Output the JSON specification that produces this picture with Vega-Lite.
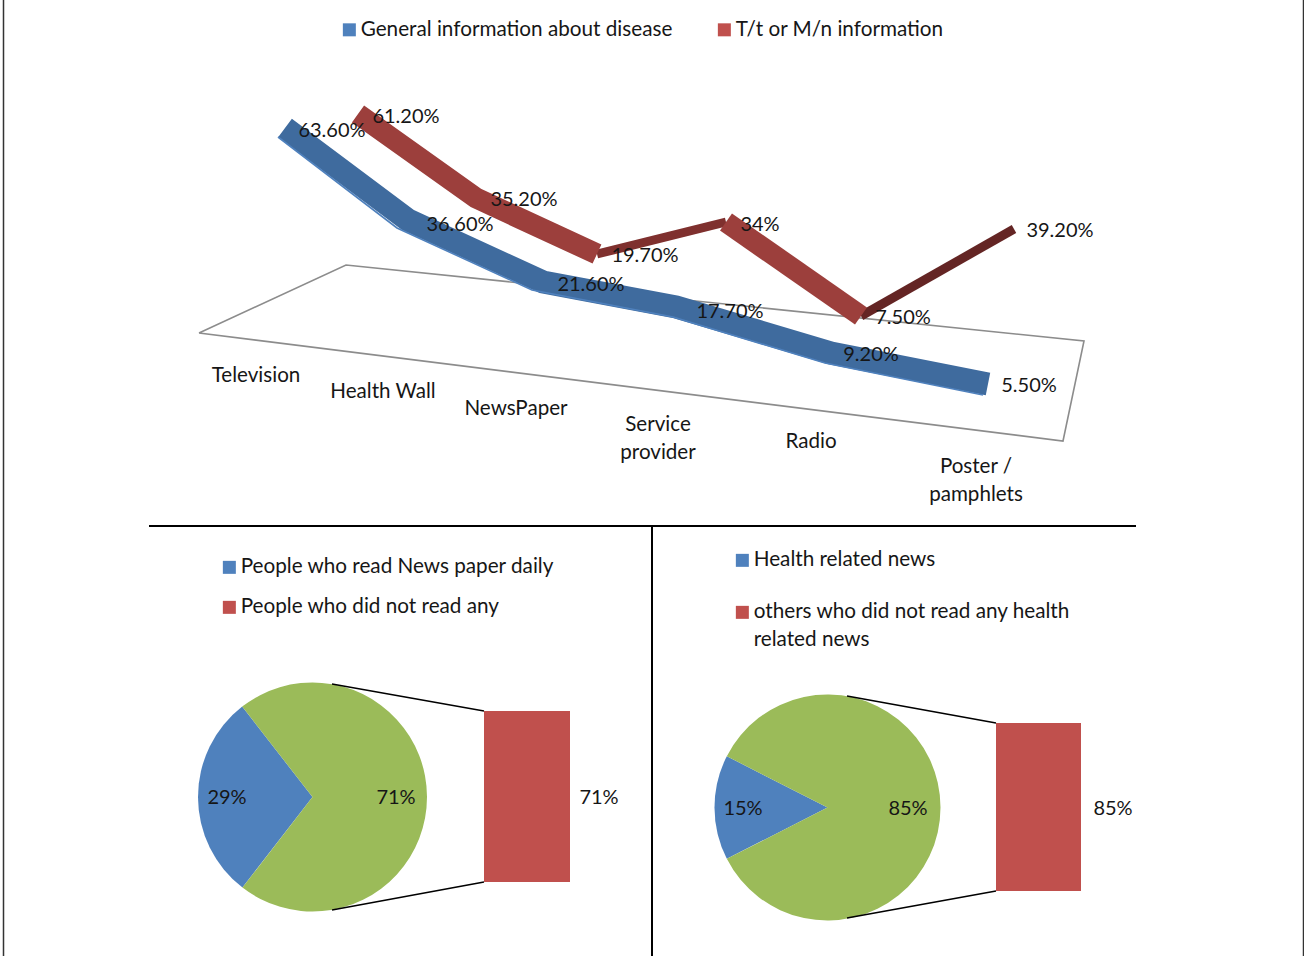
{
"$schema":"https://vega.github.io/schema/vega-lite/v6.json",
"width":1304,"height":956,"padding":0,
"autosize":{"type":"none"},
"background":"white",
"config":{"view":{"stroke":null},"text":{"font":"Lato","fontSize":20,"color":"#161616"},
"legend":{"labelFont":"Lato","labelFontSize":20.7,"labelColor":"#161616","symbolType":"square","symbolSize":169,"symbolStrokeWidth":0,"symbolOpacity":1,"labelLimit":500,"labelOffset":1,"title":null,"orient":"none"}},
"datasets":{
"ribbon":[
{"series":"General information about disease","rank":1,"category":"Television","value":63.6,"label":"63.60%"},
{"series":"General information about disease","rank":2,"category":"Health Wall","value":36.6,"label":"36.60%"},
{"series":"General information about disease","rank":3,"category":"NewsPaper","value":21.6,"label":"21.60%"},
{"series":"General information about disease","rank":4,"category":"Service provider","value":17.7,"label":"17.70%"},
{"series":"General information about disease","rank":5,"category":"Radio","value":9.2,"label":"9.20%"},
{"series":"General information about disease","rank":6,"category":"Poster / pamphlets","value":5.5,"label":"5.50%"}],
"ribbon2":[
{"series":"T/t or M/n information","rank":1,"category":"Television","value":61.2,"label":"61.20%"},
{"series":"T/t or M/n information","rank":2,"category":"Health Wall","value":35.2,"label":"35.20%"},
{"series":"T/t or M/n information","rank":3,"category":"NewsPaper","value":19.7,"label":"19.70%"},
{"series":"T/t or M/n information","rank":4,"category":"Service provider","value":34,"label":"34%"},
{"series":"T/t or M/n information","rank":5,"category":"Radio","value":7.5,"label":"7.50%"},
{"series":"T/t or M/n information","rank":6,"category":"Poster / pamphlets","value":39.2,"label":"39.20%"}],
"pie1":[{"panel":1,"slice":1,"name":"People who read News paper daily","share":29,"label":"29%"},{"panel":1,"slice":2,"name":"People who did not read any","share":71,"label":"71%"}],
"pie2":[{"panel":2,"slice":1,"name":"Health related news","share":15,"label":"15%"},{"panel":2,"slice":2,"name":"others who did not read any health|related news","share":85,"label":"85%"}]
},
"resolve":{"scale":{"x":"independent","y":"independent","color":"independent","theta":"independent"}},
"layer":[
{"data":{"values":[{"n":1,"line":"a"},{"n":2,"line":"a"},{"n":3,"line":"b"},{"n":4,"line":"b"}]},
"mark":{"type":"line","color":"#000000","strokeWidth":2},
"encoding":{"detail":{"field":"line"},
"x":{"field":"n","type":"quantitative","axis":null,"scale":{"domain":[1,2,3,4],"range":[149,1136,652,652],"nice":false,"zero":false}},
"y":{"field":"n","type":"quantitative","axis":null,"scale":{"domain":[1,2,3,4],"range":[526,526,526,956],"nice":false,"zero":false}}}},
{"data":{"values":[{"n":1,"line":"c"},{"n":2,"line":"c"},{"n":3,"line":"d"},{"n":4,"line":"d"}]},
"mark":{"type":"line","color":"#333333","strokeWidth":1.5},
"encoding":{"detail":{"field":"line"},
"x":{"field":"n","type":"quantitative","axis":null,"scale":{"domain":[1,2,3,4],"range":[3.5,3.5,1303.5,1303.5],"nice":false,"zero":false}},
"y":{"field":"n","type":"quantitative","axis":null,"scale":{"domain":[1,2,3,4],"range":[0,956,0,956],"nice":false,"zero":false}}}},
{"data":{"values":[{"n":1},{"n":2},{"n":3},{"n":4},{"n":5}]},
"mark":{"type":"line","color":"#8c8c8c","strokeWidth":1.6},
"encoding":{
"x":{"field":"n","type":"quantitative","axis":null,"scale":{"domain":[1,2,3,4,5],"range":[199,346,1084,1063,199],"nice":false,"zero":false}},
"y":{"field":"n","type":"quantitative","axis":null,"scale":{"domain":[1,2,3,4,5],"range":[333,265,341,441,333],"nice":false,"zero":false}},
"order":{"field":"n"}}},
{"data":{"values":[{"rank":3,"value":19.7},{"rank":4,"value":34}]},
"mark":{"type":"line","color":"#7f302e","strokeWidth":9,"strokeCap":"butt"},
"encoding":{
"x":{"field":"rank","type":"quantitative","axis":null,"scale":{"domain":[1,2,3,4,5,6],"range":[358,476,597,726,861,1014],"nice":false,"zero":false}},
"y":{"field":"value","type":"quantitative","axis":null,"scale":{"domain":[7.5,19.7,34,35.2,39.2,61.2],"range":[316,254,222,198,229,114],"nice":false,"zero":false}}}},
{"data":{"values":[{"rank":5,"value":7.5},{"rank":6,"value":39.2}]},
"mark":{"type":"line","color":"#642524","strokeWidth":9,"strokeCap":"butt"},
"encoding":{
"x":{"field":"rank","type":"quantitative","axis":null,"scale":{"domain":[1,2,3,4,5,6],"range":[358,476,597,726,861,1014],"nice":false,"zero":false}},
"y":{"field":"value","type":"quantitative","axis":null,"scale":{"domain":[7.5,19.7,34,35.2,39.2,61.2],"range":[316,254,222,198,229,114],"nice":false,"zero":false}}}},
{"data":{"values":[{"run":"a","rank":1,"value":61.2},{"run":"a","rank":2,"value":35.2},{"run":"a","rank":3,"value":19.7},{"run":"b","rank":4,"value":34},{"run":"b","rank":5,"value":7.5}]},
"mark":{"type":"line","color":"#9c3f3c","strokeWidth":21,"strokeCap":"butt","strokeJoin":"miter"},
"encoding":{"detail":{"field":"run"},
"x":{"field":"rank","type":"quantitative","axis":null,"scale":{"domain":[1,2,3,4,5,6],"range":[358,476,597,726,861,1014],"nice":false,"zero":false}},
"y":{"field":"value","type":"quantitative","axis":null,"scale":{"domain":[7.5,19.7,34,35.2,39.2,61.2],"range":[316,254,222,198,229,114],"nice":false,"zero":false}}}},
{"data":{"name":"ribbon"},
"mark":{"type":"line","color":"#3f6b9e","strokeWidth":23,"strokeCap":"butt","strokeJoin":"miter"},
"encoding":{
"x":{"field":"rank","type":"quantitative","axis":null,"scale":{"domain":[1,2,3,4,5,6],"range":[285,408,543,676,831,988],"nice":false,"zero":false}},
"y":{"field":"value","type":"quantitative","axis":null,"scale":{"domain":[5.5,9.2,17.7,21.6,36.6,63.6],"range":[384,353,307,282,220,128],"nice":false,"zero":false}}}},
{"data":{"name":"ribbon"},
"mark":{"type":"line","color":"#4f81bd","strokeWidth":1.6},
"encoding":{
"x":{"field":"rank","type":"quantitative","axis":null,"scale":{"domain":[1,2,3,4,5,6],"range":[278,397,532,673,825,983],"nice":false,"zero":false}},
"y":{"field":"value","type":"quantitative","axis":null,"scale":{"domain":[5.5,9.2,17.7,21.6,36.6,63.6],"range":[395,363,317,290,228,137],"nice":false,"zero":false}}}},
{"data":{"name":"ribbon"},
"mark":{"type":"text","align":"center","baseline":"middle"},
"encoding":{"text":{"field":"label"},
"x":{"field":"rank","type":"quantitative","axis":null,"scale":{"domain":[1,2,3,4,5,6],"range":[332,460,591,730,871,1029],"nice":false,"zero":false}},
"y":{"field":"value","type":"quantitative","axis":null,"scale":{"domain":[5.5,9.2,17.7,21.6,36.6,63.6],"range":[386,355,312,285,225,131],"nice":false,"zero":false}}}},
{"data":{"name":"ribbon2"},
"mark":{"type":"text","align":"center","baseline":"middle"},
"encoding":{"text":{"field":"label"},
"x":{"field":"rank","type":"quantitative","axis":null,"scale":{"domain":[1,2,3,4,5,6],"range":[406,524,645,760,903,1060],"nice":false,"zero":false}},
"y":{"field":"value","type":"quantitative","axis":null,"scale":{"domain":[7.5,19.7,34,35.2,39.2,61.2],"range":[318,256,225,200,231,117],"nice":false,"zero":false}}}},
{"data":{"name":"ribbon"},
"mark":{"type":"text","align":"center","baseline":"middle","lineBreak":"|","lineHeight":28,"fontSize":20.6},
"transform":[{"lookup":"rank","from":{"data":{"values":[{"rank":1,"t":"Television"},{"rank":2,"t":"Health Wall"},{"rank":3,"t":"NewsPaper"},{"rank":4,"t":"Service|provider"},{"rank":5,"t":"Radio"},{"rank":6,"t":"Poster /|pamphlets"}]},"key":"rank","fields":["t"]}}],
"encoding":{"text":{"field":"t"},
"x":{"field":"rank","type":"quantitative","axis":null,"scale":{"domain":[1,2,3,4,5,6],"range":[256,383,516,658,811,976],"nice":false,"zero":false}},
"y":{"field":"rank","type":"quantitative","axis":null,"scale":{"domain":[1,2,3,4,5,6],"range":[376,392,409,425,442,467],"nice":false,"zero":false}}}},
{"data":{"values":[{"s":"General information about disease"},{"s":"T/t or M/n information"}]},
"mark":{"type":"square","opacity":0,"size":1},
"encoding":{"color":{"field":"s","type":"nominal","scale":{"domain":["General information about disease","T/t or M/n information"],"range":["#4f81bd","#c0504d"]},
"legend":{"legendX":339,"legendY":19,"direction":"horizontal","columns":2,"columnPadding":41}}}},
{"data":{"name":"pie1"},
"mark":{"type":"arc","outerRadius":114.5},
"encoding":{
"theta":{"field":"share","type":"quantitative","stack":true,"scale":{"domain":[0,100],"range":[3.80,10.083]}},
"order":{"field":"slice"},
"color":{"field":"slice","type":"nominal","scale":{"domain":[1,2],"range":["#4f81bd","#9bbb59"]},"legend":null},
"x":{"field":"panel","type":"quantitative","axis":null,"scale":{"domain":[1,2],"range":[312.5,827.5],"nice":false,"zero":false}},
"y":{"field":"panel","type":"quantitative","axis":null,"scale":{"domain":[1,2],"range":[797,807.5],"nice":false,"zero":false}}}},
{"data":{"name":"pie2"},
"mark":{"type":"arc","outerRadius":113},
"encoding":{
"theta":{"field":"share","type":"quantitative","stack":true,"scale":{"domain":[0,100],"range":[4.241,10.524]}},
"order":{"field":"slice"},
"color":{"field":"slice","type":"nominal","scale":{"domain":[1,2],"range":["#4f81bd","#9bbb59"]},"legend":null},
"x":{"field":"panel","type":"quantitative","axis":null,"scale":{"domain":[1,2],"range":[312.5,827.5],"nice":false,"zero":false}},
"y":{"field":"panel","type":"quantitative","axis":null,"scale":{"domain":[1,2],"range":[797,807.5],"nice":false,"zero":false}}}},
{"data":{"values":[{"panel":1,"share":71}]},
"mark":{"type":"bar","orient":"vertical","size":86,"color":"#c0504d"},
"encoding":{
"x":{"field":"panel","type":"quantitative","axis":null,"scale":{"domain":[1,2],"range":[527,1038.5],"nice":false,"zero":false,"padding":0}},
"y":{"field":"share","type":"quantitative","stack":null,"axis":null,"scale":{"domain":[0,71],"range":[882,711],"nice":false}}}},
{"data":{"values":[{"panel":2,"share":85}]},
"mark":{"type":"bar","orient":"vertical","size":85,"color":"#c0504d"},
"encoding":{
"x":{"field":"panel","type":"quantitative","axis":null,"scale":{"domain":[1,2],"range":[527,1038.5],"nice":false,"zero":false,"padding":0}},
"y":{"field":"share","type":"quantitative","stack":null,"axis":null,"scale":{"domain":[0,85],"range":[891,723],"nice":false}}}},
{"data":{"values":[{"n":1,"link":"a"},{"n":2,"link":"a"},{"n":3,"link":"b"},{"n":4,"link":"b"},{"n":5,"link":"c"},{"n":6,"link":"c"},{"n":7,"link":"d"},{"n":8,"link":"d"}]},
"mark":{"type":"line","color":"#000000","strokeWidth":1.5},
"encoding":{"detail":{"field":"link"},
"x":{"field":"n","type":"quantitative","axis":null,"scale":{"domain":[1,2,3,4,5,6,7,8],"range":[332,484,332,484,847,996,847,996],"nice":false,"zero":false}},
"y":{"field":"n","type":"quantitative","axis":null,"scale":{"domain":[1,2,3,4,5,6,7,8],"range":[684,711,910,882,696,723,918,891],"nice":false,"zero":false}}}},
{"data":{"values":[{"share":15,"label":"15%"},{"share":29,"label":"29%"},{"share":71,"label":"71%"},{"share":85,"label":"85%"}]},
"mark":{"type":"text","align":"center","baseline":"middle"},
"encoding":{"text":{"field":"label"},
"x":{"field":"share","type":"quantitative","axis":null,"scale":{"domain":[15,29,71,85],"range":[743,227,396,908],"nice":false,"zero":false}},
"y":{"field":"share","type":"quantitative","axis":null,"scale":{"domain":[15,29,71,85],"range":[809,798,798,809],"nice":false,"zero":false}}}},
{"data":{"values":[{"share":71,"label":"71%"},{"share":85,"label":"85%"}]},
"mark":{"type":"text","align":"center","baseline":"middle"},
"encoding":{"text":{"field":"label"},
"x":{"field":"share","type":"quantitative","axis":null,"scale":{"domain":[71,85],"range":[599,1113],"nice":false,"zero":false}},
"y":{"field":"share","type":"quantitative","axis":null,"scale":{"domain":[71,85],"range":[798,809],"nice":false,"zero":false}}}},
{"data":{"name":"pie1"},
"mark":{"type":"square","opacity":0,"size":1},
"encoding":{"color":{"field":"name","type":"nominal","scale":{"domain":["People who read News paper daily","People who did not read any"],"range":["#4f81bd","#c0504d"]},
"legend":{"legendX":219,"legendY":557,"direction":"vertical","rowPadding":18}}}},
{"data":{"name":"pie2"},
"mark":{"type":"square","opacity":0,"size":1},
"encoding":{"color":{"field":"name","type":"nominal","scale":{"domain":["Health related news","others who did not read any health|related news"],"range":["#4f81bd","#c0504d"]},
"legend":{"legendX":732,"legendY":550,"direction":"vertical","rowPadding":30,"labelExpr":"split(datum.label,'|')","encode":{"labels":{"update":{"lineHeight":{"value":28}}}}}}}}
]
}
